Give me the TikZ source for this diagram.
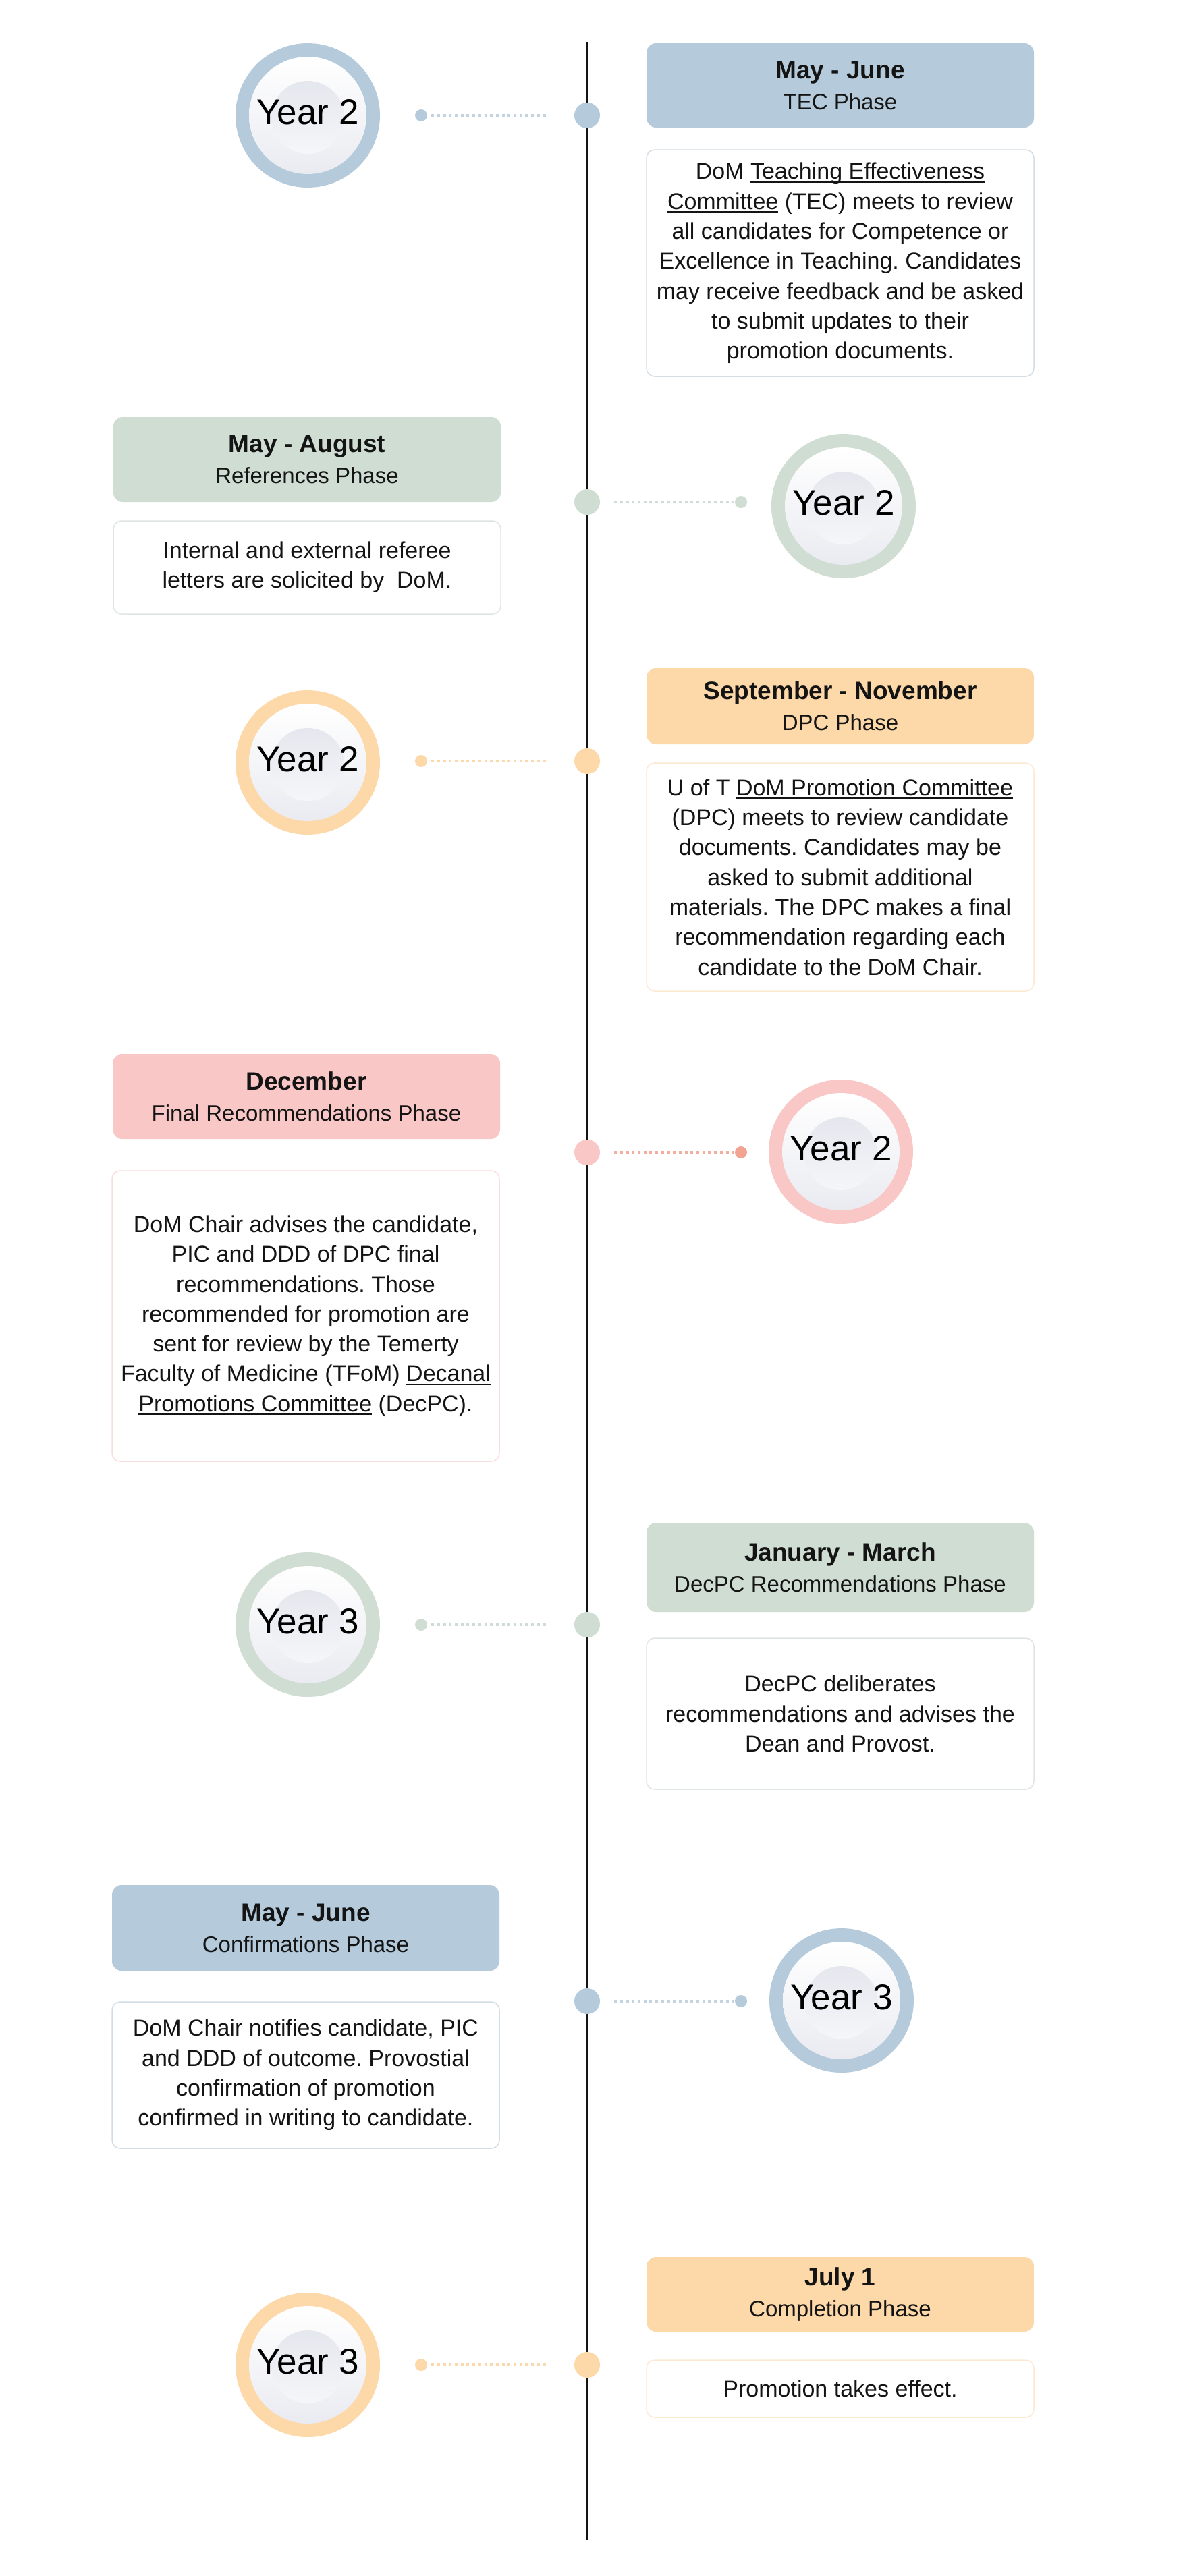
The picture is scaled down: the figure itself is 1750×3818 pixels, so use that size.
\documentclass[tikz,border=0pt]{standalone}
\usepackage{fontspec}
\setmainfont{Liberation Sans}
\frenchspacing
\definecolor{blueC}{HTML}{B5CBDB}
\definecolor{blueL}{HTML}{D2DDE6}
\definecolor{blueD}{HTML}{C3D3E0}
\definecolor{greenC}{HTML}{CFDDD2}
\definecolor{greenL}{HTML}{DFE6E1}
\definecolor{greenD}{HTML}{D0DDD4}
\definecolor{orangeC}{HTML}{FDD8A8}
\definecolor{orangeL}{HTML}{FBE9D2}
\definecolor{orangeD}{HTML}{FBD9AE}
\definecolor{pinkC}{HTML}{F9C8C6}
\definecolor{pinkL}{HTML}{F9DEDD}
\definecolor{pinkD}{HTML}{F4AE9F}
\definecolor{pinkS}{HTML}{F2A392}
\definecolor{plateB}{HTML}{EAEBF1}
\definecolor{plateC}{HTML}{E5E7EE}
\definecolor{plateD}{HTML}{F5F6F9}
\definecolor{txt}{HTML}{141414}
\newcommand\myul[1]{\setbox0\hbox{#1}\rlap{\vrule height -3pt depth 5pt width \wd0}\box0{}}
\newcommand\hdrb[1]{{\bfseries\fontsize{37}{46}\selectfont #1}}
\tikzset{
  hdr/.style={rounded corners=14pt, minimum width=574pt, inner sep=0pt, align=center, text=txt, font=\fontsize{33}{46}\selectfont},
  bodybox/.style={rounded corners=12pt, draw, line width=1.5pt, fill=white, minimum width=574pt, inner sep=0pt, align=center, text=txt, font=\fontsize{34}{44.3}\selectfont},
  tdot/.style={circle, minimum size=38pt, inner sep=0pt},
  sdot/.style={circle, minimum size=18pt, inner sep=0pt},
  dots/.style={line width=4pt, dash pattern=on 4pt off 4.7pt},
  yearfont/.style={font=\fontsize{53}{60}\selectfont, text=black, inner sep=0pt},
}
\newcommand\plate[5]{%
  \begin{scope}[shift={(#2,#3)}]
    \node[circle, fill=#4, minimum size=214pt, inner sep=0pt] (#1) at (0,0) {};
    \shade[top color=white, bottom color=plateB] (0,0) circle (87);
    \shade[top color=plateC, bottom color=plateD] (0,3) circle (54);
    \node[yearfont] (#1t) at (0,-5) {#5};
  \end{scope}}
\begin{document}
\begin{tikzpicture}[x=1pt,y=-1pt]
\useasboundingbox (0,0) rectangle (1750,3818);
\fill[white] (0,0) rectangle (1750,3818);
% timeline
\coordinate (ltop) at (870,62);
\coordinate (lbot) at (870,3765);
\draw[line width=2.5pt, black!92] (ltop) -- (lbot);

% ---------- section 1
\plate{c1}{456}{171}{blueC}{Year 2}
\node[tdot, fill=blueC] (t1) at (870,171) {};
\node[sdot, fill=blueC] (s1) at (624,171) {};
\draw[dots, draw=blueD, shorten <=6pt, shorten >=40pt] (s1) -- (t1);
\node[hdr, fill=blueC, minimum height=125pt] (h1) at (1245,126.5) {\hdrb{May - June}\\TEC Phase};
\node[bodybox, draw=blueL, minimum height=336pt] (b1) at (1245,390) {DoM \myul{Teaching Effectiveness}\\\myul{Committee} (TEC) meets to review\\all candidates for Competence or\\Excellence in Teaching. Candidates\\may receive feedback and be asked\\to submit updates to their\\promotion documents.};

% ---------- section 2
\plate{c2}{1250}{750}{greenC}{Year 2}
\node[tdot, fill=greenC] (t2) at (870,744) {};
\node[sdot, fill=greenC] (s2) at (1098,744) {};
\draw[dots, draw=greenD, shorten <=21pt] (t2) -- (s2);
\node[hdr, fill=greenC, minimum height=126pt] (h2) at (455,681) {\hdrb{May - August}\\References Phase};
\node[bodybox, draw=greenL, minimum height=138pt] (b2) at (455,841) {Internal and external referee\\letters are solicited by~ DoM.};

% ---------- section 3
\plate{c3}{456}{1130}{orangeC}{Year 2}
\node[tdot, fill=orangeC] (t3) at (870,1128) {};
\node[sdot, fill=orangeC] (s3) at (624,1128) {};
\draw[dots, draw=orangeD, shorten <=6pt, shorten >=40pt] (s3) -- (t3);
\node[hdr, fill=orangeC, minimum height=113pt] (h3) at (1245,1046.5) {\hdrb{September - November}\\DPC Phase};
\node[bodybox, draw=orangeL, minimum height=338pt] (b3) at (1245,1300) {U of T \myul{DoM Promotion Committee}\\(DPC) meets to review candidate\\documents. Candidates may be\\asked to submit additional\\materials. The DPC makes a final\\recommendation regarding each\\candidate to the DoM Chair.};

% ---------- section 4
\plate{c4}{1246}{1707}{pinkC}{Year 2}
\node[tdot, fill=pinkC] (t4) at (870,1708) {};
\node[sdot, fill=pinkS] (s4) at (1098,1708) {};
\draw[dots, draw=pinkD, shorten <=21pt] (t4) -- (s4);
\node[hdr, fill=pinkC, minimum height=126pt] (h4) at (454,1625) {\hdrb{December}\\Final Recommendations Phase};
\node[bodybox, draw=pinkL, minimum height=431pt] (b4) at (453,1950.5) {DoM Chair advises the candidate,\\PIC and DDD of DPC final\\recommendations. Those\\recommended for promotion are\\sent for review by the Temerty\\Faculty of Medicine (TFoM) \myul{Decanal}\\\myul{Promotions Committee} (DecPC).};

% ---------- section 5
\plate{c5}{456}{2408}{greenC}{Year 3}
\node[tdot, fill=greenC] (t5) at (870,2408) {};
\node[sdot, fill=greenC] (s5) at (624,2408) {};
\draw[dots, draw=greenD, shorten <=6pt, shorten >=40pt] (s5) -- (t5);
\node[hdr, fill=greenC, minimum height=132pt] (h5) at (1245,2323) {\hdrb{January - March}\\DecPC Recommendations Phase};
\node[bodybox, draw=greenL, minimum height=224pt] (b5) at (1245,2540) {DecPC deliberates\\recommendations and advises the\\Dean and Provost.};

% ---------- section 6
\plate{c6}{1247}{2965}{blueC}{Year 3}
\node[tdot, fill=blueC] (t6) at (870,2966) {};
\node[sdot, fill=blueC] (s6) at (1098,2966) {};
\draw[dots, draw=blueD, shorten <=21pt] (t6) -- (s6);
\node[hdr, fill=blueC, minimum height=127pt] (h6) at (453,2857.5) {\hdrb{May - June}\\Confirmations Phase};
\node[bodybox, draw=blueL, minimum height=217pt] (b6) at (453,3075.5) {DoM Chair notifies candidate, PIC\\and DDD of outcome. Provostial\\confirmation of promotion\\confirmed in writing to candidate.};

% ---------- section 7
\plate{c7}{456}{3505}{orangeC}{Year 3}
\node[tdot, fill=orangeC] (t7) at (870,3505) {};
\node[sdot, fill=orangeC] (s7) at (624,3505) {};
\draw[dots, draw=orangeD, shorten <=6pt, shorten >=40pt] (s7) -- (t7);
\node[hdr, fill=orangeC, minimum height=111pt] (h7) at (1245,3400.5) {\hdrb{July 1}\\Completion Phase};
\node[bodybox, draw=orangeL, minimum height=85pt] (b7) at (1245,3540.5) {Promotion takes effect.};
\end{tikzpicture}
\end{document}
